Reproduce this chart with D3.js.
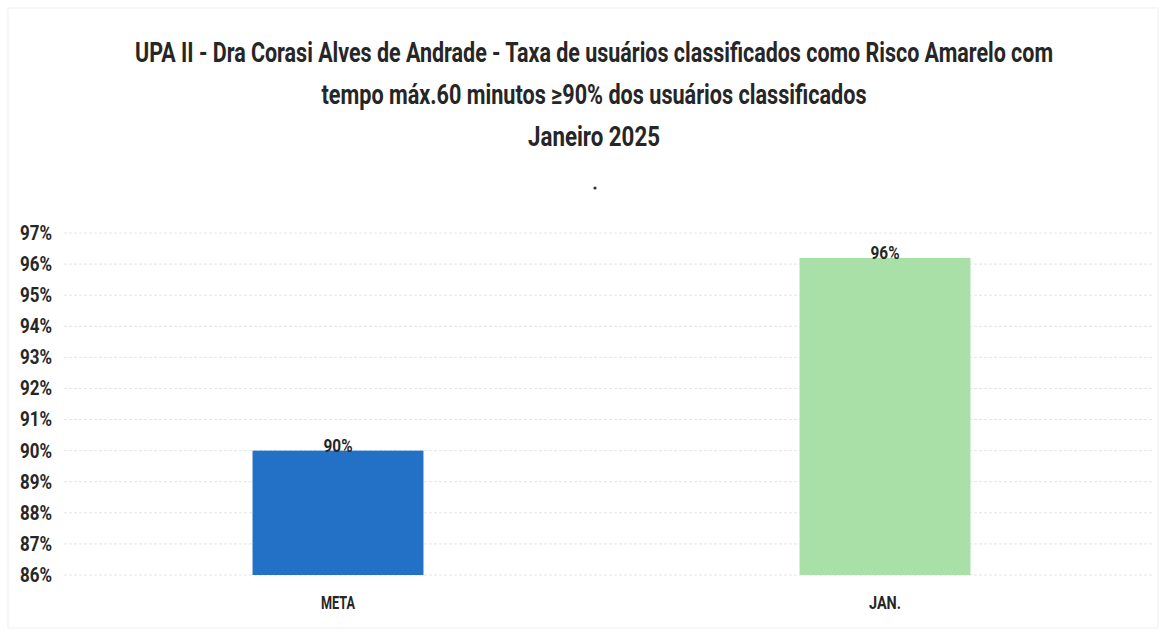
<!DOCTYPE html>
<html><head><meta charset="utf-8">
<script src="https://cdn.jsdelivr.net/npm/d3@7/dist/d3.min.js"></script>
<style>body{margin:0;background:#fff;} svg{display:block;}</style>
</head><body>
<svg id="c" width="1164" height="632"></svg>
<script>
const categories = ["META", "JAN."];
const values = [90, 96.2];
const valueLabels = ["90%", "96%"];
const colors = ["#2271c6", "#a8e0a8"];
const yTicks = [86, 87, 88, 89, 90, 91, 92, 93, 94, 95, 96, 97];
const titleLines = [
  "UPA II - Dra Corasi Alves de Andrade - Taxa de usuários classificados como Risco Amarelo com",
  "tempo máx.60 minutos ≥90% dos usuários classificados",
  "Janeiro 2025"
];

const svg = d3.select("#c");
const font = "Roboto, 'Liberation Sans', sans-serif";
const textColor = "#262626";

// frame
svg.append("rect").attr("x", 8).attr("y", 8).attr("width", 1150).attr("height", 620)
  .attr("fill", "none").attr("stroke", "#f0f0f0").attr("stroke-width", 1);

const plotLeft = 64.5, plotRight = 1158.5, plotTop = 233, plotBottom = 575;
const x = d3.scaleBand().domain(categories).range([plotLeft, plotRight]).paddingInner(0.6875).paddingOuter(0.34375);
const y = d3.scaleLinear().domain([86, 97]).range([plotBottom, plotTop]);

// title
const titleY = [62, 104, 146];
const titleW = [918, 545, 132];
titleLines.forEach((t, i) => {
  svg.append("g").attr("transform", `translate(594,${titleY[i]}) scale(1,1.3)`)
    .append("text").attr("x", 0).attr("y", 0).attr("text-anchor", "middle")
    .attr("font-family", font).attr("font-weight", "700").attr("font-size", 21)
    .attr("fill", textColor)
    .attr("textLength", titleW[i]).attr("lengthAdjust", "spacingAndGlyphs")
    .text(t);
});
svg.append("circle").attr("cx", 595).attr("cy", 188).attr("r", 1.6).attr("fill", "#333");

// grid
svg.append("g").selectAll("line").data(yTicks).join("line")
  .attr("x1", 64).attr("x2", 1152)
  .attr("y1", d => y(d)).attr("y2", d => y(d))
  .attr("stroke", "#e2e6e6").attr("stroke-width", 1).attr("stroke-dasharray", "3,2");

// y axis
const yAxis = svg.append("g").attr("transform", `translate(52,0)`)
  .call(d3.axisLeft(y).tickValues(yTicks).tickFormat(d => d + "%").tickSize(0).tickPadding(0));
yAxis.select(".domain").remove();
yAxis.selectAll("text").attr("font-family", font).attr("font-weight", "700").attr("font-size", 20)
  .attr("fill", textColor).attr("textLength", 32).attr("lengthAdjust", "spacingAndGlyphs");

// bars
svg.append("g").selectAll("rect").data(categories).join("rect")
  .attr("x", d => x(d)).attr("width", x.bandwidth())
  .attr("y", (d, i) => y(values[i])).attr("height", (d, i) => plotBottom - y(values[i]))
  .attr("fill", (d, i) => colors[i]);

// value labels
svg.append("g").selectAll("text").data(categories).join("text")
  .attr("x", d => x(d) + x.bandwidth() / 2)
  .attr("y", (d, i) => y(values[i]) + 1)
  .attr("text-anchor", "middle")
  .attr("font-family", font).attr("font-weight", "700").attr("font-size", 19)
  .attr("fill", textColor).attr("textLength", 29).attr("lengthAdjust", "spacingAndGlyphs")
  .text((d, i) => valueLabels[i]);

// x axis labels
const xAxis = svg.append("g").attr("transform", `translate(0,${plotBottom})`)
  .call(d3.axisBottom(x).tickSize(0).tickPadding(0));
xAxis.select(".domain").remove();
xAxis.selectAll("text").attr("font-family", font).attr("font-weight", "700").attr("font-size", 19)
  .attr("fill", textColor).attr("dy", null).attr("y", 34)
  .attr("textLength", d => d === "META" ? 34 : 32).attr("lengthAdjust", "spacingAndGlyphs");
</script>
</body></html>
